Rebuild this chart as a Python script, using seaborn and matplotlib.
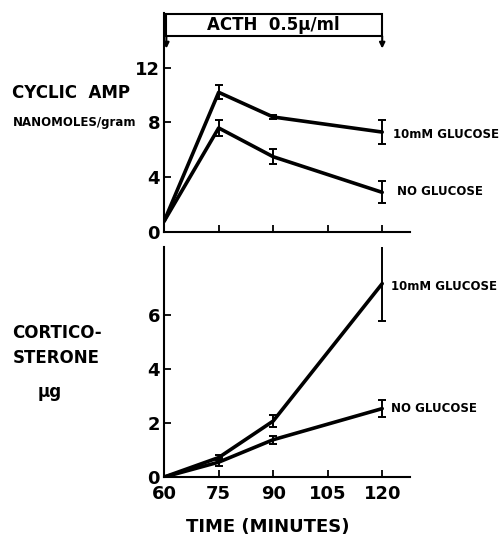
import numpy as np
import pandas as pd
import matplotlib
matplotlib.use("Agg")
import matplotlib.pyplot as plt
import seaborn as sns
from matplotlib.patches import Rectangle

# Data
time = [60, 75, 90, 120]

camp_glucose = [0.8, 10.2, 8.4, 7.3]
camp_glucose_err = [0, 0.5, 0.15, 0.9]
camp_none = [0.8, 7.6, 5.5, 2.9]
camp_none_err = [0, 0.6, 0.55, 0.8]

cort_glucose = [0, 0.72, 2.07, 7.15]
cort_glucose_err = [0, 0.1, 0.23, 1.4]
cort_none = [0, 0.55, 1.38, 2.53]
cort_none_err = [0, 0.15, 0.15, 0.3]

x_ticks = [60, 75, 90, 105, 120]
camp_ticks = [0, 4, 8, 12]
cort_ticks = [0, 2, 4, 6]

sns.set_theme(style="white")
plt.rcParams["font.family"] = ["DejaVu Sans"]
plt.rcParams["font.weight"] = "bold"
plt.rcParams["text.color"] = "black"

fig = plt.figure(figsize=(4.99, 5.36), dpi=100)
ax1 = fig.add_axes([0.329, 0.567, 0.493, 0.409])
ax2 = fig.add_axes([0.329, 0.110, 0.493, 0.429])


def draw_panel(ax, y_a, e_a, y_b, e_b):
    df = pd.DataFrame({
        "time": time * 2,
        "value": y_a + y_b,
        "group": ["glucose"] * len(time) + ["none"] * len(time),
    })
    sns.lineplot(data=df, x="time", y="value", units="group", estimator=None,
                 color="black", linewidth=2.6, ax=ax, legend=False)
    for y, e in [(y_a, e_a), (y_b, e_b)]:
        ax.errorbar(time[1:], y[1:], yerr=e[1:], fmt="none", ecolor="black",
                    elinewidth=1.4, capsize=3, capthick=1.4)
    for s in ["top", "right"]:
        ax.spines[s].set_visible(False)
    for s in ["left", "bottom"]:
        ax.spines[s].set_color("black")
        ax.spines[s].set_linewidth(1.5)
    ax.set_xlim(60, 127.7)
    ax.set_xticks(x_ticks)
    ax.set_xlabel("")
    ax.set_ylabel("")
    ax.tick_params(axis="both", direction="in", length=5, width=1.3, pad=3,
                   colors="black", labelsize=13, left=True, bottom=True)


draw_panel(ax1, camp_glucose, camp_glucose_err, camp_none, camp_none_err)
ax1.set_ylim(0, 16)
ax1.set_yticks(camp_ticks)
ax1.set_xticklabels([])

draw_panel(ax2, cort_glucose, cort_glucose_err, cort_none, cort_none_err)
ax2.set_ylim(0, 8.5)
ax2.set_yticks(cort_ticks)
ax2.set_xticklabels([str(t) for t in x_ticks])
ax2.tick_params(axis="x", pad=6)

# ACTH box with arrows
ax1.add_patch(Rectangle((60.6, 14.3), 59.4, 1.65, fill=False, edgecolor="black",
                        linewidth=1.5, clip_on=False))
ax1.text(90, 15.12, "ACTH  0.5\u03bc/ml", ha="center", va="center", fontsize=12,
         fontweight="bold")
for xa in [60.6, 120]:
    ax1.annotate("", xy=(xa, 13.4), xytext=(xa, 14.3),
                 arrowprops=dict(arrowstyle="-|>", color="black", lw=1.5,
                                 mutation_scale=8, shrinkA=0, shrinkB=0))

# series labels
ax1.text(123, 7.1, "10mM GLUCOSE", fontsize=8.5, va="center")
ax1.text(124, 2.95, "NO GLUCOSE", fontsize=8.5, va="center")
ax2.text(122.5, 7.05, "10mM GLUCOSE", fontsize=8.5, va="center")
ax2.text(122.5, 2.55, "NO GLUCOSE", fontsize=8.5, va="center")

# axis titles
fig.text(0.025, 0.826, "CYCLIC  AMP", fontsize=12, va="center")
fig.text(0.025, 0.772, "NANOMOLES/gram", fontsize=8.5, va="center")
fig.text(0.025, 0.378, "CORTICO-", fontsize=12, va="center")
fig.text(0.025, 0.332, "STERONE", fontsize=12, va="center")
fig.text(0.075, 0.268, "\u03bcg", fontsize=12, va="center")
fig.text(0.536, 0.017, "TIME (MINUTES)", fontsize=13, ha="center", va="center")

fig.savefig("out.png", dpi=100)
